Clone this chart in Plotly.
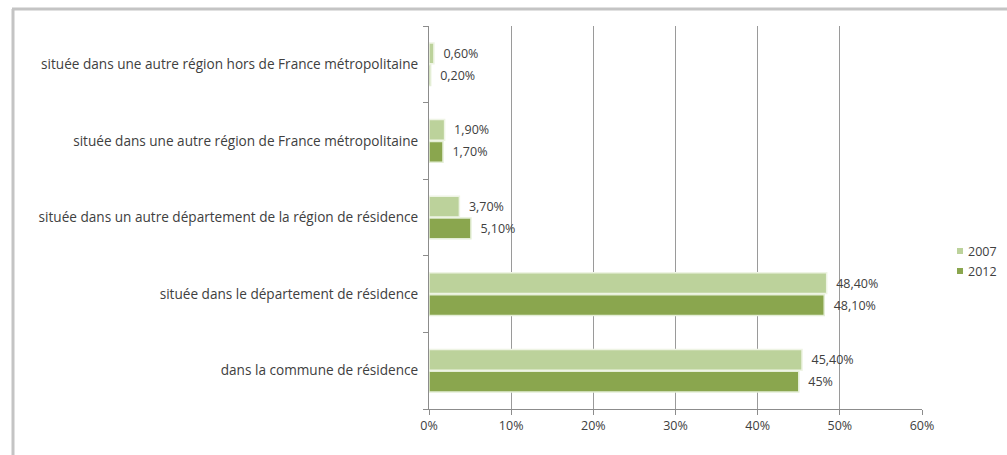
import plotly.graph_objects as go

categories = [
    "dans la commune de résidence",
    "située dans le département de résidence",
    "située dans un autre département de la région de résidence",
    "située dans une autre région de France métropolitaine",
    "située dans une autre région hors de France métropolitaine",
]
values_2007 = [45.4, 48.4, 3.7, 1.9, 0.6]
values_2012 = [45.0, 48.1, 5.1, 1.7, 0.2]
labels_2007 = ["45,40%", "48,40%", "3,70%", "1,90%", "0,60%"]
labels_2012 = ["45%", "48,10%", "5,10%", "1,70%", "0,20%"]
x_ticks = [0, 10, 20, 30, 40, 50, 60]
x_tick_labels = ["0%", "10%", "20%", "30%", "40%", "50%", "60%"]
series_names = ["2007", "2012"]
series_colors = ["#bcd29b", "#8aa64e"]

W, H = 1007, 455
L, R, T, B = 429, 85, 26, 46
FONT = "Open Sans, Lato, sans-serif"
FS = 12.5
TXT = "#404040"

fig = go.Figure()
fig.add_trace(go.Bar(
    y=categories, x=values_2012, name=series_names[1], orientation="h",
    marker=dict(color=series_colors[1], line=dict(color="#e4eed6", width=1.5)),
    text=labels_2012, texttemplate="  %{text}", textposition="outside",
    cliponaxis=False, textfont=dict(size=FS, color=TXT, family=FONT),
))
fig.add_trace(go.Bar(
    y=categories, x=values_2007, name=series_names[0], orientation="h",
    marker=dict(color=series_colors[0], line=dict(color="#eef4e4", width=1.5)),
    text=labels_2007, texttemplate="  %{text}", textposition="outside",
    cliponaxis=False, textfont=dict(size=FS, color=TXT, family=FONT),
))

pw = W - L - R
ph = H - T - B


def px_x(p):
    return (p - L) / pw


def px_y(p):
    return 1 - (p - T) / ph


# outer frame of the chart (top and left edges)
fig.add_shape(type="line", xref="paper", yref="paper",
              x0=px_x(12), x1=px_x(1007), y0=px_y(9), y1=px_y(9),
              line=dict(color="#c4c4c4", width=3))
fig.add_shape(type="line", xref="paper", yref="paper",
              x0=px_x(13), x1=px_x(13), y0=px_y(9), y1=px_y(455),
              line=dict(color="#c4c4c4", width=3))

# legend drawn beside the plot without reserving margin space
for i, (name, color) in enumerate(zip(series_names, series_colors)):
    yc = 251 + i * 20
    fig.add_shape(type="rect", xref="paper", yref="paper",
                  x0=px_x(957), x1=px_x(963), y0=px_y(yc + 3), y1=px_y(yc - 3),
                  fillcolor=color, line=dict(width=0))
    fig.add_annotation(xref="paper", yref="paper", x=px_x(966), y=px_y(yc),
                       text=name, showarrow=False, xanchor="left",
                       yanchor="middle", font=dict(size=FS, color=TXT, family=FONT))

fig.update_layout(
    width=W, height=H,
    margin=dict(l=L, r=R, t=T, b=B, autoexpand=False),
    paper_bgcolor="white", plot_bgcolor="white",
    barmode="group", bargap=0.43, bargroupgap=0.05,
    font=dict(family=FONT, size=FS, color=TXT),
    showlegend=False,
    xaxis=dict(range=[0, 60], tickvals=x_ticks, ticktext=x_tick_labels,
               showgrid=True, gridcolor="#9a9a9a", gridwidth=1,
               ticks="outside", ticklen=5, tickcolor="#8c8c8c",
               showline=True, linecolor="#8c8c8c", linewidth=1,
               zeroline=False, tickfont=dict(size=FS, color=TXT)),
    yaxis=dict(type="category", categoryorder="array", categoryarray=categories,
               ticks="outside", tickson="boundaries", ticklen=5,
               tickcolor="#8c8c8c", showline=True, linecolor="#8c8c8c",
               linewidth=1, showgrid=False, ticksuffix="  ",
               tickfont=dict(size=13.6, color=TXT)),
)

fig.write_html("out.html")
